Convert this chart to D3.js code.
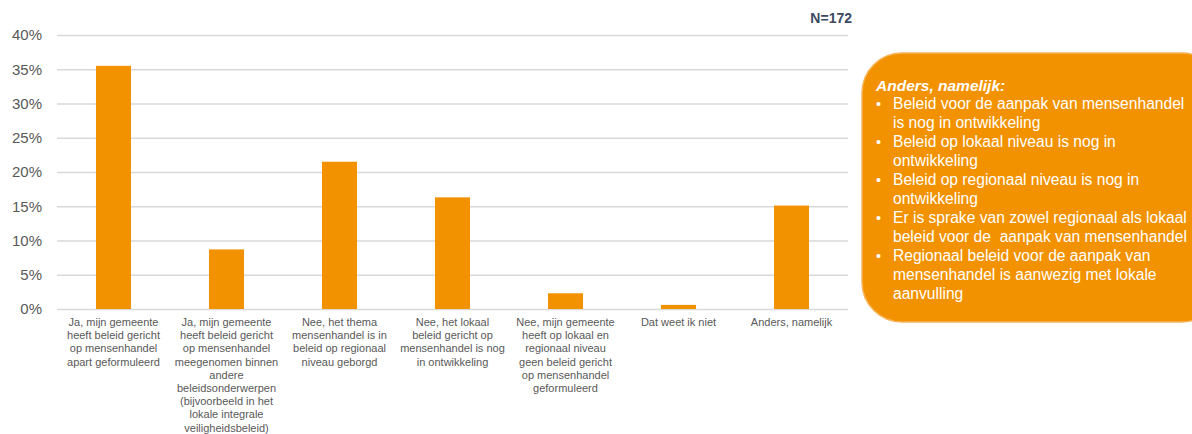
<!DOCTYPE html>
<html>
<head>
<meta charset="utf-8">
<script src="https://cdn.jsdelivr.net/npm/d3@7"></script>
<style>
    body { margin: 0; background: #fff; }
    svg { display: block; font-family: "Liberation Sans", Arial, sans-serif; }
    .note { white-space: pre; }
</style>
</head>
<body>
<div id="chart"></div>
<script>
const categories = [
    "Ja, mijn gemeente|heeft beleid gericht|op mensenhandel|apart geformuleerd",
    "Ja, mijn gemeente|heeft beleid gericht|op mensenhandel|meegenomen binnen|andere|beleidsonderwerpen|(bijvoorbeeld in het|lokale integrale|veiligheidsbeleid)",
    "Nee, het thema|mensenhandel is in|beleid op regionaal|niveau geborgd",
    "Nee, het lokaal|beleid gericht op|mensenhandel is nog|in ontwikkeling",
    "Nee, mijn gemeente|heeft op lokaal en|regionaal niveau|geen beleid gericht|op mensenhandel|geformuleerd",
    "Dat weet ik niet",
    "Anders, namelijk"
];
const percentages = [35.5, 8.7, 21.5, 16.3, 2.3, 0.6, 15.1];
const yTicks = [0, 5, 10, 15, 20, 25, 30, 35, 40];
const noteTitle = "Anders, namelijk:";
const noteItems = [
    ["Beleid voor de aanpak van mensenhandel", "is nog in ontwikkeling"],
    ["Beleid op lokaal niveau is nog in", "ontwikkeling"],
    ["Beleid op regionaal niveau is nog in", "ontwikkeling"],
    ["Er is sprake van zowel regionaal als lokaal", "beleid voor de  aanpak van mensenhandel"],
    ["Regionaal beleid voor de aanpak van", "mensenhandel is aanwezig met lokale", "aanvulling"]
];
const sampleLabel = "N=172";

const width = 1192;
const height = 434;
const margin = ({top: 35, right: 344, bottom: 125, left: 57});
const orange = "#F39200";
const grey = "#595959";

const svg = d3.select("#chart").append("svg")
    .attr("width", width)
    .attr("height", height);

const x = d3.scaleBand()
    .domain(d3.range(categories.length))
    .range([margin.left, width - margin.right])
    .paddingInner(0.69)
    .paddingOuter(0.345);

const y = d3.scaleLinear()
    .domain([0, 40])
    .range([height - margin.bottom, margin.top]);

// gridlines + y labels
svg.append("g")
    .attr("transform", `translate(${margin.left},0)`)
    .call(d3.axisLeft(y).tickValues(yTicks)
        .tickFormat(d => d + "%")
        .tickSize(-(width - margin.right - margin.left))
        .tickPadding(15))
    .call(g => g.select(".domain").remove())
    .call(g => g.selectAll(".tick line").attr("stroke", "#D9D9D9").attr("stroke-width", 1.3))
    .call(g => g.selectAll(".tick text")
        .attr("fill", grey)
        .attr("font-size", 15));

// bars
svg.append("g")
    .attr("fill", orange)
    .selectAll("rect")
    .data(percentages)
    .join("rect")
    .attr("x", (d, i) => x(i))
    .attr("y", d => y(d))
    .attr("width", x.bandwidth())
    .attr("height", d => y(0) - y(d));

// category labels
const labels = svg.append("g")
    .attr("font-size", 11)
    .attr("fill", grey)
    .attr("text-anchor", "middle")
    .selectAll("text")
    .data(categories)
    .join("text")
    .attr("x", (d, i) => x(i) + x.bandwidth() / 2)
    .attr("y", y(0) + 17);

labels.selectAll("tspan")
    .data(d => d.split("|"))
    .join("tspan")
    .attr("x", function () { return this.parentNode.getAttribute("x"); })
    .attr("dy", (d, i) => i === 0 ? 0 : 13.2)
    .text(d => d);

// N label
svg.append("text")
    .attr("x", 852)
    .attr("y", 23)
    .attr("text-anchor", "end")
    .attr("font-size", 14)
    .attr("font-weight", "bold")
    .attr("fill", "#3B4A63")
    .text(sampleLabel);

// note box
const box = svg.append("g");
box.append("rect")
    .attr("x", 862)
    .attr("y", 53)
    .attr("width", 360)
    .attr("height", 269)
    .attr("rx", 40)
    .attr("fill", orange)
    .attr("stroke", "#F7B45A")
    .attr("stroke-width", 1.5);

box.append("text")
    .attr("x", 876)
    .attr("y", 91)
    .attr("font-size", 15.5)
    .attr("font-weight", "bold")
    .attr("font-style", "italic")
    .attr("fill", "#fff")
    .text(noteTitle);

let lineY = 109;
noteItems.forEach(item => {
    box.append("text")
        .attr("x", 876)
        .attr("y", lineY)
        .attr("font-size", 14.5)
        .attr("fill", "#fff")
        .text("\u2022");
    item.forEach(line => {
        box.append("text")
            .attr("class", "note")
            .attr("x", 893)
            .attr("y", lineY)
            .attr("font-size", 15.6)
            .attr("fill", "#fff")
            .text(line);
        lineY += 19;
    });
});
</script>
</body>
</html>
